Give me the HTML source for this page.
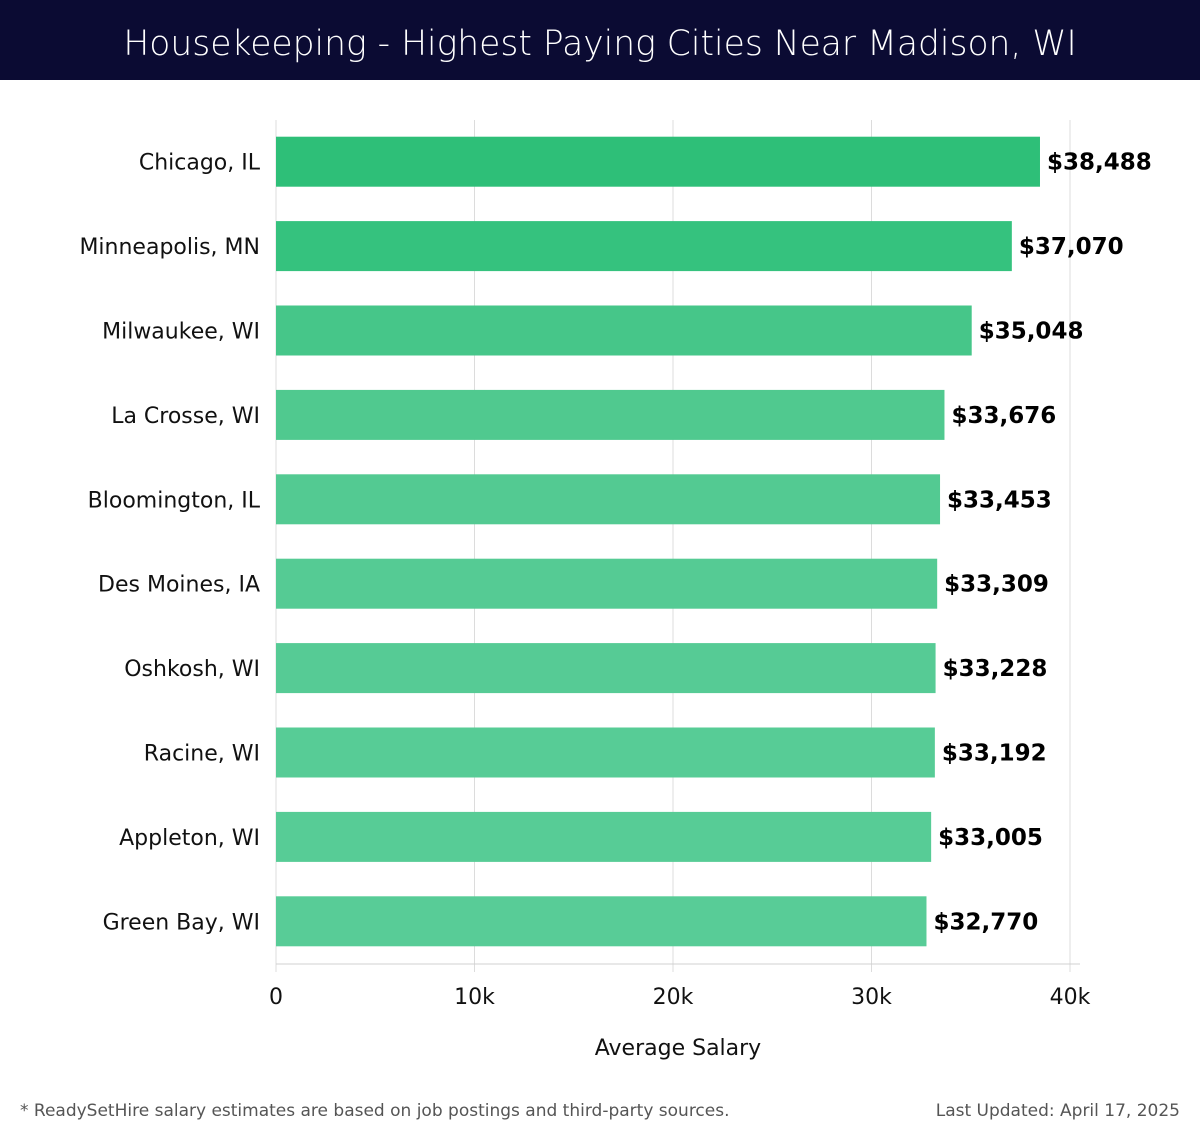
<!DOCTYPE html>
<html><head><meta charset="utf-8">
<style>
body{margin:0;width:1200px;height:1140px;background:#fff;font-family:"DejaVu Sans","Liberation Sans",sans-serif;overflow:hidden;position:relative}
#title{position:absolute;left:0;top:0;width:1200px;height:80px;background:#0b0b33;color:#fff;font-size:34.5px;line-height:88px;text-align:center;font-weight:300}
#foot-l{position:absolute;left:20px;top:1101px;font-size:17px;color:#555}
#foot-r{position:absolute;right:20px;top:1101px;font-size:17px;color:#555}
svg{position:absolute;left:0;top:0}
</style></head><body>
<div id="title">Housekeeping - Highest Paying Cities Near Madison, WI</div>
<svg id="chart" width="1200" height="1140"></svg>
<div id="foot-l">* ReadySetHire salary estimates are based on job postings and third-party sources.</div>
<div id="foot-r">Last Updated: April 17, 2025</div>
<script>
const cities = ["Chicago, IL","Minneapolis, MN","Milwaukee, WI","La Crosse, WI","Bloomington, IL","Des Moines, IA","Oshkosh, WI","Racine, WI","Appleton, WI","Green Bay, WI"];
const salaries = [38488,37070,35048,33676,33453,33309,33228,33192,33005,32770];
const ticks = [0,10000,20000,30000,40000];
const tickLabels = ["0","10k","20k","30k","40k"];
const colors = ["#2ebf78","#35c27e","#46c689","#50c98f","#53ca92","#55cb94","#56cb95","#57cc96","#57cc96","#58cc97"];

const NS="http://www.w3.org/2000/svg";
const svg=document.getElementById('chart');
const x0=276,x1=1070,plotTop=120,plotBottom=964,maxV=40000;
const xs=v=>x0+(v/maxV)*(x1-x0);
const band=(plotBottom-plotTop)/cities.length;
function mk(t,a){const e=document.createElementNS(NS,t);for(const k in a)e.setAttribute(k,a[k]);svg.appendChild(e);return e;}
ticks.forEach((t,i)=>{
  const g=mk('line',{x1:xs(t),x2:xs(t),y1:plotTop,y2:972,stroke:'#dcdcdc','stroke-width':1});
  
  
  const l=mk('text',{x:xs(t),y:1004,'text-anchor':'middle','font-size':22,fill:'#111'});
  l.textContent=tickLabels[i];
  
  
});
const ax=mk('line',{x1:x0,x2:1080,y1:plotBottom,y2:plotBottom,stroke:'#d0d0d0','stroke-width':1});


cities.forEach((c,i)=>{
  const cy=plotTop+band*(i+0.5)-0.5;
  const r=mk('rect',{x:x0,y:cy-25,width:xs(salaries[i])-x0,height:50,fill:colors[i]});
  
  
  const lab=mk('text',{x:260,y:cy+8,'text-anchor':'end','font-size':22,fill:'#111'});
  lab.textContent=c;
  
  
  const v=mk('text',{x:xs(salaries[i])+7,y:cy+8,'font-size':23,'font-weight':'bold',fill:'#000'});
  v.textContent='$'+salaries[i].toLocaleString('en-US');
  
  
});
const xt=mk('text',{x:678,y:1055,'text-anchor':'middle','font-size':22,fill:'#111'});
xt.textContent='Average Salary';


</script>
</body></html>
